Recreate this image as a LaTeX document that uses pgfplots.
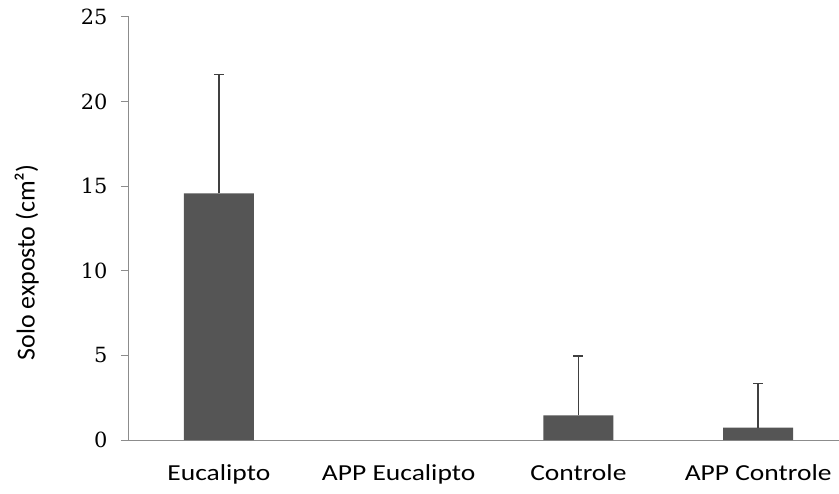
\documentclass[border=0pt]{standalone}
\usepackage{pgfplots}
\pgfplotsset{compat=1.18}
\usepackage{fontspec}
\setmainfont{Carlito}
\newfontfamily\widefont[FakeStretch=1.2]{Carlito}
\newfontfamily\tickfont{DejaVu Serif}
\definecolor{barc}{HTML}{555555}
\definecolor{axc}{HTML}{8C8C8C}
\definecolor{errc}{HTML}{404040}
\begin{document}
\begin{tikzpicture}
\begin{axis}[name=ax, scale only axis, width=710bp, height=423bp,
  xmin=-0.5, xmax=3.45, ymin=0, ymax=25,
  axis x line*=bottom, axis y line*=left,
  axis line style={draw=axc, line width=1bp},
  /pgf/number format/assume math mode=true,
  ytick={0,5,10,15,20,25},
  yticklabel style={font=\tickfont\fontsize{21}{21}\selectfont, xshift=-10bp},
  tick align=outside, major tick length=8bp,
  tick style={draw=axc, line width=1bp},
  xtick={0,1,2,3},
  xticklabels={Eucalipto, APP Eucalipto, Controle, APP Controle},
  xticklabel style={font=\widefont\fontsize{23}{23}\selectfont, yshift=-13bp},
  x tick style={draw=none},
  extra x ticks={-0.5,0.5,1.5,2.5},
  extra x tick labels={},
  extra x tick style={tick style={draw=axc, line width=1bp}},
  ylabel={Solo exposto (cm²)},
  ylabel style={font=\fontsize{26}{26}\selectfont, at={(rel axis cs:-0.144,0.42)}, anchor=center, rotate=0},
  clip=false,
]
\addplot[ybar, bar width=0.39, fill=barc, draw=none,
  error bars/.cd, y dir=plus, y explicit,
  error bar style={line width=1.5bp, color=errc},
  error mark options={rotate=90, mark size=5bp, line width=1.5bp, color=errc}]
  coordinates {(0,14.58) +- (0,7.03) (2,1.46) +- (0,3.50) (3,0.73) +- (0,2.60)};
\end{axis}
\pgfresetboundingbox
\path ([xshift=-129bp,yshift=-54bp]ax.south west) rectangle ([yshift=17bp]ax.north east);
\end{tikzpicture}
\end{document}
